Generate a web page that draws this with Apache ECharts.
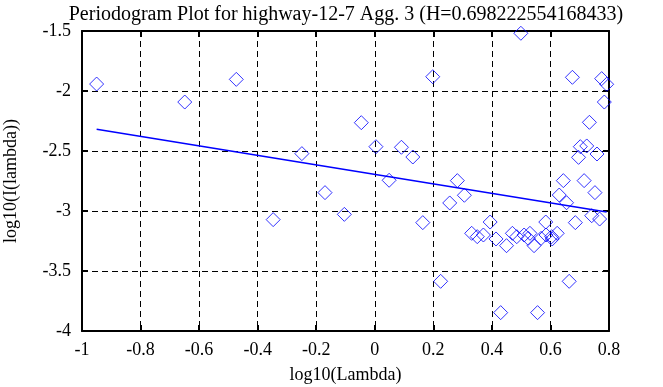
<!DOCTYPE html>
<html>
<head>
<meta charset="utf-8">
<script src="https://cdn.jsdelivr.net/npm/echarts@6/dist/echarts.min.js"></script>
<style>
html,body{margin:0;padding:0;background:#fff;}
#chart{width:663px;height:387px;}
</style>
</head>
<body>
<div id="chart"></div>
<script>
const titleText = 'Periodogram Plot for highway-12-7 Agg. 3 (H=0.698222554168433)';
const xName = 'log10(Lambda)';
const yName = 'log10(I(lambda))';

const logLambda = [-0.950,-0.649,-0.473,-0.347,-0.249,-0.170,-0.104,-0.046,0.004,0.049,
  0.091,0.130,0.164,0.198,0.225,0.256,0.282,0.306,0.331,0.350,
  0.371,0.394,0.414,0.430,0.450,0.470,0.485,0.499,0.510,0.524,
  0.530,0.544,0.556,0.568,0.584,0.585,0.604,0.606,0.623,0.630,
  0.644,0.655,0.664,0.675,0.685,0.696,0.702,0.715,0.724,0.733,
  0.741,0.752,0.759,0.768,0.775,0.784,0.792];
const logPeriodogram = [-1.942,-2.092,-1.903,-3.072,-2.522,-2.847,-3.028,-2.264,-2.464,-2.744,
  -2.469,-2.550,-3.097,-1.881,-3.586,-2.933,-2.747,-2.869,-3.186,-3.214,
  -3.200,-3.092,-3.233,-3.847,-3.289,-3.186,-3.214,-1.519,-3.200,-3.228,
  -3.186,-3.289,-3.847,-3.228,-3.092,-3.200,-3.214,-3.233,-3.186,-2.867,
  -2.747,-2.931,-3.586,-1.886,-3.097,-2.553,-2.464,-2.747,-2.458,-2.261,
  -3.039,-2.847,-2.525,-3.067,-1.897,-2.092,-1.944];
const fitX = [-0.950, 0.792];
const fitY = [-2.318, -3.009];

const xTicks = {min: -1, max: 0.8, interval: 0.2};
const yTicks = {min: -4, max: -1.5, interval: 0.5};

const FONT = 'Liberation Serif';
const scatterData = logLambda.map((x, i) => [x, logPeriodogram[i]]);
const fitData = fitX.map((x, i) => [x, fitY[i]]);

const chart = echarts.init(document.getElementById('chart'), null, {renderer: 'canvas'});
const baseAxis = {
  axisLine: {show: true, onZero: false, lineStyle: {color: '#000', width: 2}},
  axisTick: {show: true, inside: true, length: 6, lineStyle: {color: '#000', width: 2}},
  splitLine: {show: true, lineStyle: {color: '#000', width: 1, type: [6, 4]}},
  axisLabel: {color: '#000', fontFamily: FONT, fontSize: 18},
  nameTextStyle: {color: '#000', fontFamily: FONT, fontSize: 18}
};
chart.setOption({
  animation: false,
  backgroundColor: '#fff',
  title: {
    text: titleText, left: 341, top: 0, textAlign: 'center',
    textStyle: {color: '#000', fontFamily: FONT, fontSize: 20, fontWeight: 'normal', lineHeight: 20}
  },
  grid: {left: 82, right: 54, top: 31, bottom: 56, show: false, containLabel: false, outerBoundsMode: 'none'},
  xAxis: [
    Object.assign({}, baseAxis, {type: 'value', position: 'bottom', min: xTicks.min, max: xTicks.max, interval: xTicks.interval,
      name: xName, nameLocation: 'middle', nameGap: 35,
      axisLabel: Object.assign({}, baseAxis.axisLabel, {margin: 10})}),
    Object.assign({}, baseAxis, {type: 'value', position: 'top', min: xTicks.min, max: xTicks.max, interval: xTicks.interval,
      axisLabel: {show: false}, splitLine: {show: false}})
  ],
  yAxis: [
    Object.assign({}, baseAxis, {type: 'value', position: 'left', min: yTicks.min, max: yTicks.max, interval: yTicks.interval,
      name: yName, nameLocation: 'middle', nameGap: 62,
      axisLabel: Object.assign({}, baseAxis.axisLabel, {margin: 11})}),
    Object.assign({}, baseAxis, {type: 'value', position: 'right', min: yTicks.min, max: yTicks.max, interval: yTicks.interval,
      axisLabel: {show: false}, splitLine: {show: false}})
  ],
  series: [
    {
      type: 'scatter', xAxisIndex: 0, yAxisIndex: 0, data: scatterData,
      symbol: 'diamond', symbolSize: [14, 14],
      itemStyle: {color: 'rgba(0,0,0,0)', borderColor: '#0000ff', borderWidth: 1}
    },
    {
      type: 'line', xAxisIndex: 0, yAxisIndex: 0, data: fitData,
      showSymbol: false, symbol: 'none',
      lineStyle: {color: '#0000ff', width: 1.5}
    }
  ]
});
</script>
</body>
</html>
